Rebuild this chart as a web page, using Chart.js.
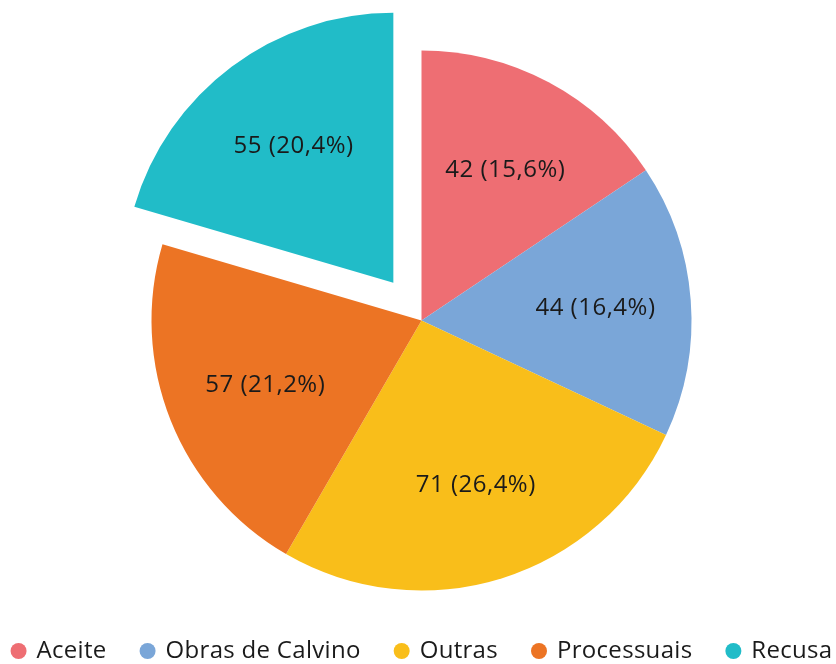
<!DOCTYPE html>
<html>
<head>
<meta charset="utf-8">
<script src="https://cdn.jsdelivr.net/npm/chart.js@4"></script>
<style>
  html, body { margin: 0; padding: 0; background: #ffffff; }
  #wrap { width: 836px; height: 664px; }
</style>
</head>
<body>
<div id="wrap"><canvas id="c" width="836" height="664"></canvas></div>
<script>
const categories = ['Aceite', 'Obras de Calvino', 'Outras', 'Processuais', 'Recusa'];
const values = [42, 44, 71, 57, 55];
const colors = ['#EE6E73', '#7AA6D8', '#F9BE1A', '#EC7424', '#21BCC8'];
const explode = [0, 0, 0, 0, 47];

const FONT_FAMILY = '"Open Sans", "DejaVu Sans", sans-serif';
const TEXT_COLOR = '#1a1a1a';

function pctLabel(v, total) {
  return v + ' (' + (v / total * 100).toFixed(1).replace('.', ',') + '%)';
}

function midAngle(arc) {
  const p = arc.getProps(['startAngle', 'endAngle'], true);
  return (p.startAngle + p.endAngle) / 2;
}

// Shift exploded slices outward along their mid angle
const explodeSlices = {
  id: 'explodeSlices',
  beforeDatasetsDraw(chart) {
    const meta = chart.getDatasetMeta(0);
    meta.data.forEach((arc, i) => {
      const d = explode[i] || 0;
      if (!d || arc._exploded) return;
      const orig = arc.draw;
      arc.draw = function (ctx, area) {
        const m = midAngle(this);
        ctx.save();
        ctx.translate(Math.cos(m) * d, Math.sin(m) * d);
        orig.call(this, ctx, area);
        ctx.restore();
      };
      arc._exploded = true;
    });
  }
};

const sliceLabels = {
  id: 'sliceLabels',
  afterDatasetsDraw(chart) {
    const ctx = chart.ctx;
    const meta = chart.getDatasetMeta(0);
    const data = chart.data.datasets[0].data;
    const total = data.reduce((a, b) => a + b, 0);
    ctx.save();
    ctx.font = '24px ' + FONT_FAMILY;
    if ('letterSpacing' in ctx) ctx.letterSpacing = '0.5px';
    ctx.fillStyle = TEXT_COLOR;
    ctx.textAlign = 'center';
    ctx.textBaseline = 'middle';
    meta.data.forEach((arc, i) => {
      const p = arc.getProps(['x', 'y', 'outerRadius'], true);
      const mid = midAngle(arc);
      const r = p.outerRadius * 0.635 + (explode[i] || 0);
      ctx.fillText(pctLabel(data[i], total), p.x + Math.cos(mid) * r + 3, p.y + Math.sin(mid) * r + 1);
    });
    ctx.restore();
  }
};

const bottomLegend = {
  id: 'bottomLegend',
  afterDraw(chart) {
    const ctx = chart.ctx;
    const area = chart.chartArea;
    const cx = (area.left + area.right) / 2;
    const y = 651;
    const dot = 8, dotGap = 10, itemGap = 33;
    ctx.save();
    ctx.font = '24px ' + FONT_FAMILY;
    if ('letterSpacing' in ctx) ctx.letterSpacing = '0.3px';
    const widths = chart.data.labels.map(t => ctx.measureText(t).width);
    let total = 0;
    widths.forEach((w, i) => { total += dot * 2 + dotGap + w + (i ? itemGap : 0); });
    let x = cx - total / 2;
    ctx.textBaseline = 'middle';
    ctx.textAlign = 'left';
    chart.data.labels.forEach((t, i) => {
      ctx.fillStyle = chart.data.datasets[0].backgroundColor[i];
      ctx.beginPath();
      ctx.arc(x + dot, y, dot, 0, Math.PI * 2);
      ctx.fill();
      ctx.fillStyle = TEXT_COLOR;
      ctx.fillText(t, x + dot * 2 + dotGap, y);
      x += dot * 2 + dotGap + widths[i] + itemGap;
    });
    ctx.restore();
  }
};

function build() {
  new Chart(document.getElementById('c'), {
    type: 'pie',
    data: {
      labels: categories,
      datasets: [{
        data: values,
        backgroundColor: colors,
        borderWidth: 0
      }]
    },
    options: {
      responsive: false,
      animation: false,
      radius: 270,
      layout: { padding: { left: 7, right: 0, top: 0, bottom: 23 } },
      plugins: {
        legend: { display: false },
        tooltip: { enabled: false }
      }
    },
    plugins: [explodeSlices, sliceLabels, bottomLegend]
  });
}

if (document.fonts && document.fonts.load) {
  document.fonts.load('24px "Open Sans"').then(build, build);
} else {
  build();
}
</script>
</body>
</html>
